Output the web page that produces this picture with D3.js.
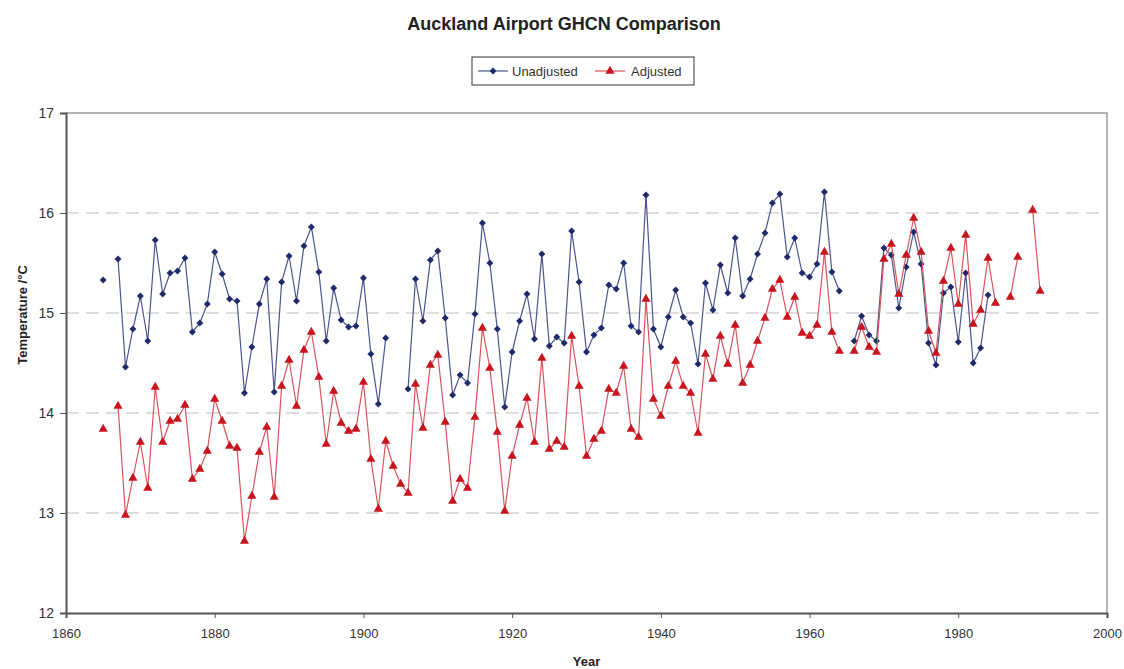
<!DOCTYPE html>
<html>
<head>
<meta charset="utf-8">
<script src="https://cdn.jsdelivr.net/npm/d3@7"></script>
<style>
  body { margin: 0; background: #fff; }
  svg { font-family: "Liberation Sans", Arial, sans-serif; }
</style>
</head>
<body>
<svg id="chart" width="1124" height="669"></svg>
<script>
// Data (null = no value for that year)
const firstYear = 1865;
const lastYear = 1991;

const unadjusted = [
  15.33, null, 15.54, 14.46, 14.84, 15.17, 14.72, 15.73, 15.19, 15.40,
  15.42, 15.55, 14.81, 14.90, 15.09, 15.61, 15.39, 15.14, 15.12, 14.20,
  14.66, 15.09, 15.34, 14.21, 15.31, 15.57, 15.12, 15.67, 15.86, 15.41,
  14.72, 15.25, 14.93, 14.86, 14.87, 15.35, 14.59, 14.09, 14.75, null,
  null, 14.24, 15.34, 14.92, 15.53, 15.62, 14.95, 14.18, 14.38, 14.30,
  14.99, 15.90, 15.50, 14.84, 14.06, 14.61, 14.92, 15.19, 14.74, 15.59,
  14.67, 14.76, 14.70, 15.82, 15.31, 14.61, 14.78, 14.85, 15.28, 15.24,
  15.50, 14.87, 14.81, 16.18, 14.84, 14.66, 14.96, 15.23, 14.96, 14.90,
  14.49, 15.30, 15.03, 15.48, 15.20, 15.75, 15.17, 15.34, 15.59, 15.80,
  16.10, 16.19, 15.56, 15.75, 15.40, 15.36, 15.49, 16.21, 15.41, 15.22,
  null, 14.72, 14.97, 14.78, 14.72, 15.65, 15.58, 15.05, 15.46, 15.81,
  15.49, 14.70, 14.48, 15.20, 15.26, 14.71, 15.40, 14.50, 14.65, 15.18,
  null, null, null, null, null, null, null
];

const adjusted = [
  13.84, null, 14.07, 12.98, 13.35, 13.71, 13.25, 14.26, 13.71, 13.92,
  13.94, 14.08, 13.34, 13.44, 13.62, 14.14, 13.92, 13.67, 13.65, 12.72,
  13.17, 13.61, 13.86, 13.16, 14.27, 14.53, 14.07, 14.63, 14.81, 14.36,
  13.69, 14.22, 13.90, 13.82, 13.84, 14.31, 13.54, 13.04, 13.72, 13.47,
  13.29, 13.20, 14.29, 13.85, 14.48, 14.58, 13.91, 13.12, 13.34, 13.25,
  13.96, 14.85, 14.45, 13.81, 13.02, 13.57, 13.88, 14.15, 13.71, 14.55,
  13.64, 13.72, 13.66, 14.77, 14.27, 13.57, 13.74, 13.82, 14.24, 14.20,
  14.47, 13.84, 13.76, 15.14, 14.14, 13.97, 14.27, 14.52, 14.27, 14.20,
  13.80, 14.59, 14.34, 14.77, 14.49, 14.88, 14.30, 14.48, 14.72, 14.95,
  15.24, 15.33, 14.96, 15.16, 14.80, 14.77, 14.88, 15.61, 14.81, 14.62,
  null, 14.62, 14.86, 14.66, 14.61, 15.54, 15.69, 15.19, 15.58, 15.95,
  15.61, 14.82, 14.60, 15.32, 15.65, 15.09, 15.78, 14.89, 15.03, 15.55,
  15.10, null, 15.16, 15.56, null, 16.03, 15.22
];

const xTicks = [1860, 1880, 1900, 1920, 1940, 1960, 1980, 2000];
const yTicks = [12, 13, 14, 15, 16, 17];
const seriesNames = ["Unadjusted", "Adjusted"];

(function() {
  const svg = d3.select("#chart");
  const left = 66, right = 1107, top = 113, bottom = 613;

  const x = d3.scaleLinear().domain([1860, 2000]).range([left, right]);
  const y = d3.scaleLinear().domain([12, 17]).range([bottom, top]);

  const years = d3.range(firstYear, lastYear + 1);
  const toPoints = vals => years.map((yr, i) => ({ year: yr, value: vals[i] }));

  // square turned 45 degrees = Excel style diamond
  const diamond = { draw(ctx, size) { const r = Math.sqrt(size) / 2 * Math.SQRT2; ctx.moveTo(0, -r); ctx.lineTo(r, 0); ctx.lineTo(0, r); ctx.lineTo(-r, 0); ctx.closePath(); } };

  const series = [
    { name: seriesNames[0], points: toPoints(unadjusted), color: "#1f2a6b", line: "#4a5590", shape: diamond, size: 24 },
    { name: seriesNames[1], points: toPoints(adjusted), color: "#c8141e", line: "#d9535a", shape: d3.symbolTriangle, size: 36 }
  ];

  // Title
  svg.append("text").attr("x", 564).attr("y", 30).attr("text-anchor", "middle")
    .attr("font-size", 18).attr("font-weight", "bold").attr("fill", "#222")
    .text("Auckland Airport GHCN Comparison");

  // Gridlines
  svg.append("g").selectAll("line").data(yTicks.filter(t => t > 12 && t < 17)).enter().append("line")
    .attr("x1", left).attr("x2", right).attr("y1", d => y(d)).attr("y2", d => y(d))
    .attr("stroke", "#bdbdbd").attr("stroke-width", 1.2).attr("stroke-dasharray", "13,7");

  // Plot border (top and right)
  svg.append("path").attr("d", `M${left},${top}H${right}V${bottom}`)
    .attr("fill", "none").attr("stroke", "#9a9a9a").attr("stroke-width", 1.5);

  // Axes
  const yAxis = svg.append("g").attr("transform", `translate(${left},0)`)
    .call(d3.axisLeft(y).tickValues(yTicks).tickSize(6).tickPadding(6).tickFormat(d3.format("d")));
  const xAxis = svg.append("g").attr("transform", `translate(0,${bottom})`)
    .call(d3.axisBottom(x).tickValues(xTicks).tickSize(5).tickPadding(11).tickFormat(d3.format("d")));
  [xAxis, yAxis].forEach(g => {
    g.select(".domain").attr("stroke", "#555").attr("stroke-width", 2);
    g.selectAll(".tick line").attr("stroke", "#555");
    g.selectAll(".tick text").attr("fill", "#333")
      .attr("font-family", "'Liberation Sans Narrow', 'Liberation Sans', Arial, sans-serif");
  });
  xAxis.selectAll(".tick text").attr("font-size", 13);
  yAxis.selectAll(".tick text").attr("font-size", 14);

  // Axis titles
  svg.append("text").attr("x", (left + right) / 2).attr("y", 666).attr("text-anchor", "middle")
    .attr("font-size", 13).attr("font-weight", "bold").attr("fill", "#222").text("Year");
  svg.append("text").attr("transform", "translate(27,315) rotate(-90)").attr("text-anchor", "middle")
    .attr("font-size", 13).attr("font-weight", "bold").attr("fill", "#222").text("Temperature /°C");

  // Series
  const line = d3.line().defined(d => d.value != null).x(d => x(d.year)).y(d => y(d.value));
  series.forEach(s => {
    svg.append("path").datum(s.points).attr("d", line)
      .attr("fill", "none").attr("stroke", s.line).attr("stroke-width", 1.2);
    svg.append("g").selectAll("path").data(s.points.filter(d => d.value != null)).enter().append("path")
      .attr("d", d3.symbol().type(s.shape).size(s.size))
      .attr("transform", d => `translate(${x(d.year)},${y(d.value)})`)
      .attr("fill", s.color);
  });

  // Legend
  const legend = svg.append("g").attr("transform", "translate(472,57)");
  legend.append("rect").attr("width", 222).attr("height", 28)
    .attr("fill", "#fff").attr("stroke", "#555").attr("stroke-width", 1.2);
  const items = [
    { s: series[0], x0: 6, tx: 40 },
    { s: series[1], x0: 123, tx: 159 }
  ];
  items.forEach(it => {
    legend.append("line").attr("x1", it.x0).attr("x2", it.x0 + 30).attr("y1", 14).attr("y2", 14)
      .attr("stroke", it.s.line).attr("stroke-width", 1.2);
    legend.append("path").attr("d", d3.symbol().type(it.s.shape).size(it.s.size))
      .attr("transform", `translate(${it.x0 + 15},14)`).attr("fill", it.s.color);
    legend.append("text").attr("x", it.tx).attr("y", 19).attr("font-size", 13).attr("fill", "#333")
      .text(it.s.name);
  });
})();
</script>
</body>
</html>
